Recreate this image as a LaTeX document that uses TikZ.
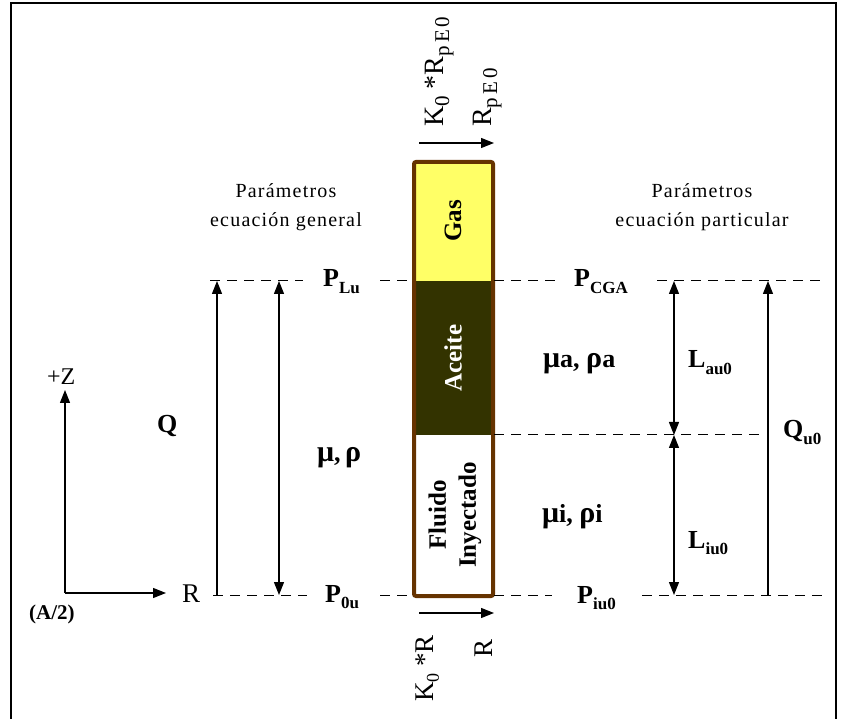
\documentclass[tikz,border=0pt]{standalone}
\usepackage{fontspec}
\setmainfont{Liberation Serif}
\usetikzlibrary{arrows.meta}
\definecolor{brownb}{RGB}{102,51,0}
\definecolor{gasy}{RGB}{255,255,102}
\definecolor{oil}{RGB}{51,51,0}
\newcommand\sbb[1]{\raisebox{-0.25em}{\fontsize{17}{17}\selectfont #1}}
\newcommand\sbn[1]{\raisebox{-0.22em}{\fontsize{21}{21}\selectfont\addfontfeature{LetterSpace=14}#1}}
\newcommand\grk[1]{{\fontsize{30}{30}\selectfont #1}}
\begin{document}
\begin{tikzpicture}[x=1pt,y=-1pt,
 guide/.style={line width=1pt,dash pattern=on 10pt off 7pt},
 dim/.style={line width=1.2pt,-{Triangle[length=13pt,width=10pt]}},
 dimboth/.style={line width=1.2pt,{Triangle[length=13pt,width=10pt]}-{Triangle[length=13pt,width=10pt]}},
 lbl/.style={font=\fontsize{26}{26}\selectfont\bfseries,inner sep=0pt,anchor=base west},
 partxt/.style={font=\fontsize{20}{29}\selectfont\addfontfeature{LetterSpace=6},inner sep=0pt,align=center},
 rtxt/.style={font=\fontsize{28}{28}\selectfont,inner sep=0pt,anchor=base west,rotate=90},
 coltxt/.style={font=\fontsize{25}{30}\selectfont\bfseries,rotate=90,inner sep=0pt,align=center}]
\useasboundingbox (0,0) rectangle (847,719);
% frame
\draw[line width=2.5pt] (11,730) -- (11,3) -- (836,3) -- (836,730);
% column
\fill[gasy] (414,162) rectangle (493,281);
\fill[oil] (414,281) rectangle (493,435);
\fill[white] (414,435) rectangle (493,596);
\draw[brownb,line width=4pt,rounded corners=2pt] (414,162) rectangle (493,596);
\node[coltxt] (tgas) at (453,221) {Gas};
\node[coltxt,text=white] (tace) at (453,358) {Aceite};
\node[coltxt] (tflu) at (455,515) {Fluido\\Inyectado};
% guide lines
\draw[guide] (210,281) -- (303,281);
\draw[guide] (380,281) -- (414,281);
\draw[guide] (494,281) -- (557,281);
\draw[guide] (657,281) -- (825,281);
\draw[guide] (494,435) -- (762,435);
\draw[guide] (213,595) -- (307,595);
\draw[guide] (380,595) -- (414,595);
\draw[guide] (494,595) -- (552,595);
\draw[guide] (642,595) -- (825,595);
% coordinates
\coordinate (qb) at (217,595); \coordinate (qt) at (217,281);
\coordinate (mt) at (279,281); \coordinate (mb) at (279,595);
\coordinate (lt) at (674,281); \coordinate (lm) at (674,435); \coordinate (lb) at (674,595);
\coordinate (qub) at (768,595); \coordinate (qut) at (768,281);
\coordinate (o) at (65,593); \coordinate (oz) at (65,390); \coordinate (orr) at (166,593);
\coordinate (ta) at (419,143); \coordinate (tb) at (494,143);
\coordinate (ba) at (419,613); \coordinate (bb) at (494,613);
% arrows
\draw[dim] (qb) -- (qt);
\draw[dimboth] (mt) -- (mb);
\draw[dimboth] (lt) -- (lm);
\draw[dimboth] (lm) -- (lb);
\draw[dim] (qub) -- (qut);
\draw[dim] (o) -- (oz);
\draw[dim] (o) -- (orr);
\draw[dim] (ta) -- (tb);
\draw[dim] (ba) -- (bb);
% labels
\node[lbl] (plu) at (323,287) {P\sbb{Lu}};
\node[lbl] (pcga) at (574,287) {P\sbb{CGA}};
\node[lbl] (p0u) at (325,602) {P\sbb{0u}};
\node[lbl] (piu) at (577,603) {P\sbb{iu0}};
\node[lbl] (qu0) at (783,438) {Q\sbb{u0}};
\node[lbl] (lau) at (688,368) {L\sbb{au0}};
\node[lbl] (liu) at (688,548) {L\sbb{iu0}};
\node[lbl] (mra) at (543,368) {\grk{μ}a, \grk{ρ}a};
\node[lbl] (mri) at (542,522) {\grk{μ}i, \grk{ρ}i};
\node[lbl] (mr) at (317,462) {\grk{μ},\,\grk{ρ}};
\node[lbl] (q) at (157,433) {Q};
\node[font=\fontsize{27}{27}\selectfont,inner sep=0pt,anchor=base west] (rax) at (182,602) {R};
\node[font=\fontsize{24}{24}\selectfont,inner sep=0pt,anchor=base west] (zax) at (47,385) {+Z};
\node[font=\fontsize{21}{21}\selectfont\bfseries,inner sep=0pt,anchor=base west] (a2) at (29,619) {(A/2)};
\node[partxt] (pg) at (286,207) {Parámetros\\ecuación general};
\node[partxt] (pp) at (702,207) {Parámetros\\ecuación particular};
% rotated texts
\node[rtxt] (k0t) at (443,127) {K\sbn{0} *R\sbn{pE0}};
\node[rtxt] (rpt) at (491,127) {R\sbn{pE0}};
\node[rtxt,font=\fontsize{27}{27}\selectfont] (k0b) at (433,702) {K\raisebox{-0.22em}{\fontsize{18}{18}\selectfont 0} *R};
\node[rtxt,font=\fontsize{27}{27}\selectfont] (rb) at (492,658) {R};
\end{tikzpicture}
\end{document}
